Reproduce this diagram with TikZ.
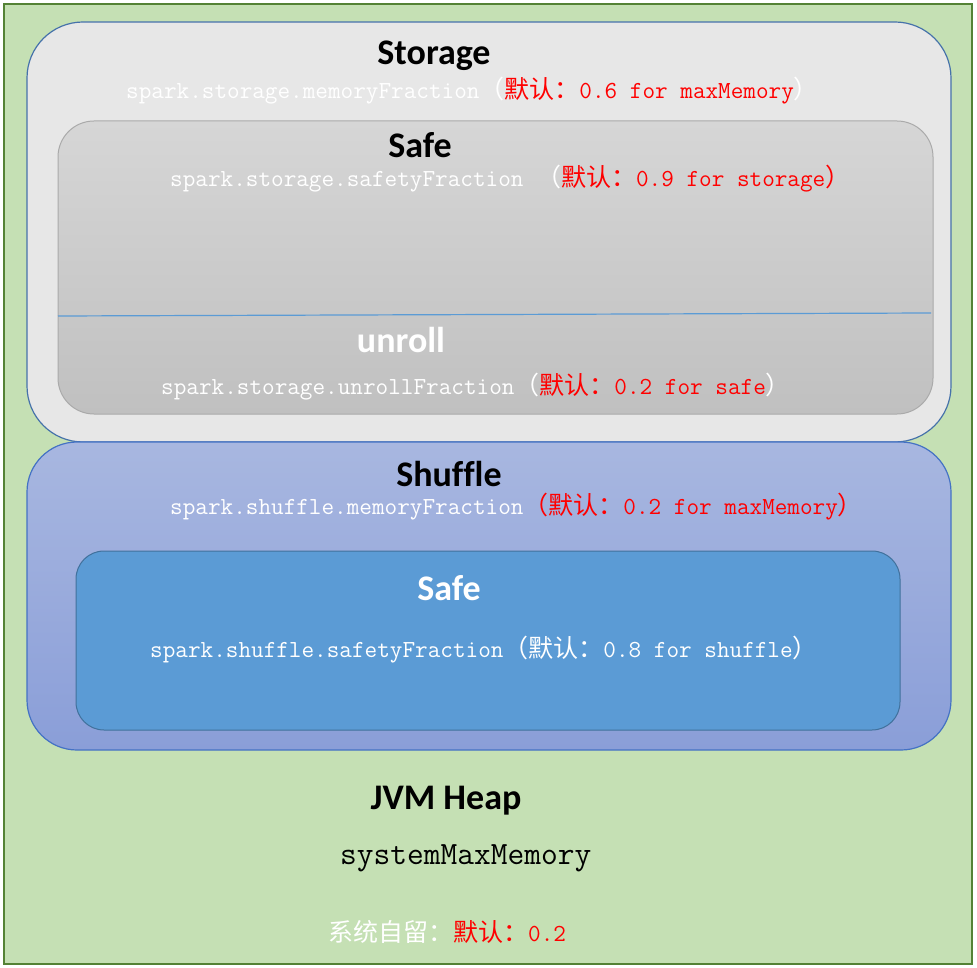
\documentclass[tikz,border=0pt]{standalone}
\usepackage{fontspec}
\newfontfamily\cjk{Noto Sans CJK SC}
\newfontfamily\titlefont[Ligatures=NoCommon]{Carlito}
\usetikzlibrary{positioning}
\definecolor{heapgreen}{RGB}{197,224,180}
\definecolor{heapborder}{RGB}{84,130,53}
\definecolor{storfill}{RGB}{231,231,231}
\definecolor{storborder}{RGB}{70,114,170}
\definecolor{safetop}{RGB}{214,214,214}
\definecolor{safebot}{RGB}{192,192,192}
\definecolor{safeborder}{RGB}{170,170,170}
\definecolor{linkblue}{RGB}{91,155,213}
\definecolor{shuftop}{RGB}{168,183,224}
\definecolor{shufbot}{RGB}{138,158,216}
\definecolor{shufborder}{RGB}{68,114,196}
\definecolor{ssafefill}{RGB}{91,155,213}
\definecolor{ssafeborder}{RGB}{65,113,156}
\newcommand{\cj}[1]{{\cjk\fontsize{25}{28}\selectfont #1}}
\tikzset{
  titletext/.style={inner sep=0pt, font=\titlefont\bfseries\fontsize{36}{40}\selectfont},
  monotext/.style={inner sep=0pt, anchor=west, font=\ttfamily\fontsize{24.5}{28}\selectfont},
}
\begin{document}
\begin{tikzpicture}[x=1pt,y=-1pt]
\useasboundingbox (0,0) rectangle (977,968);
% JVM heap
\path[fill=heapgreen, draw=heapborder, line width=1.5pt] (4,4) rectangle (972,964);
% storage
\path[fill=storfill, draw=storborder, line width=1.2pt, rounded corners=56pt] (27,22) rectangle (951,442);
% storage safe
\path[top color=safetop, bottom color=safebot, draw=safeborder, line width=1pt, rounded corners=36pt] (58,121) rectangle (933,414);
\coordinate (ul) at (58,316);
\coordinate (ur) at (931,313);
\draw[linkblue, line width=1.2pt] (ul) -- (ur);
% shuffle
\path[top color=shuftop, bottom color=shufbot, draw=shufborder, line width=1.2pt, rounded corners=50pt] (27,442) rectangle (951,750);
% shuffle safe
\path[fill=ssafefill, draw=ssafeborder, line width=1pt, rounded corners=28pt] (76,551) rectangle (900,730);

% texts
\node[titletext] (storage) at (434,56) {Storage};
\node[monotext] (l1) at (126,91) {\color{white}spark.storage.memoryFraction\cj{（}\color{red}\cj{默认：}0.6 for maxMemory\color{white}\cj{）}};

\node[titletext] (safe1) at (420,145) {Safe};
\node[monotext] (l2) at (170,179) {\color{white}spark.storage.safetyFraction \cj{（}\color{red}\cj{默认：}0.9 for storage\cj{）}};

\node[titletext, text=white] (unroll) at (401,340) {unroll};
\node[monotext] (l3) at (161,387) {\color{white}spark.storage.unrollFraction\cj{（}\color{red}\cj{默认：}0.2 for safe\color{white}\cj{）}};

\node[titletext] (shuffle) at (449,474) {Shuffle};
\node[monotext] (l4) at (170,507) {\color{white}spark.shuffle.memoryFraction\color{red}\cj{（默认：}0.2 for maxMemory\cj{）}};

\node[titletext, text=white] (safe2) at (449,588) {Safe};
\node[monotext] (l5) at (150,650) {\color{white}spark.shuffle.safetyFraction\cj{（默认：}0.8 for shuffle\cj{）}};

\node[titletext] (jvm) at (446,801) {JVM Heap};
\node[inner sep=0pt, anchor=west, font=\ttfamily\fontsize{32.5}{36}\selectfont] (sysmax) at (340,858) {systemMaxMemory};
\node[monotext] (reserve) at (328,932) {\color{white}\cj{系统自留：}\color{red}\cj{默认：}0.2};
\end{tikzpicture}
\end{document}
